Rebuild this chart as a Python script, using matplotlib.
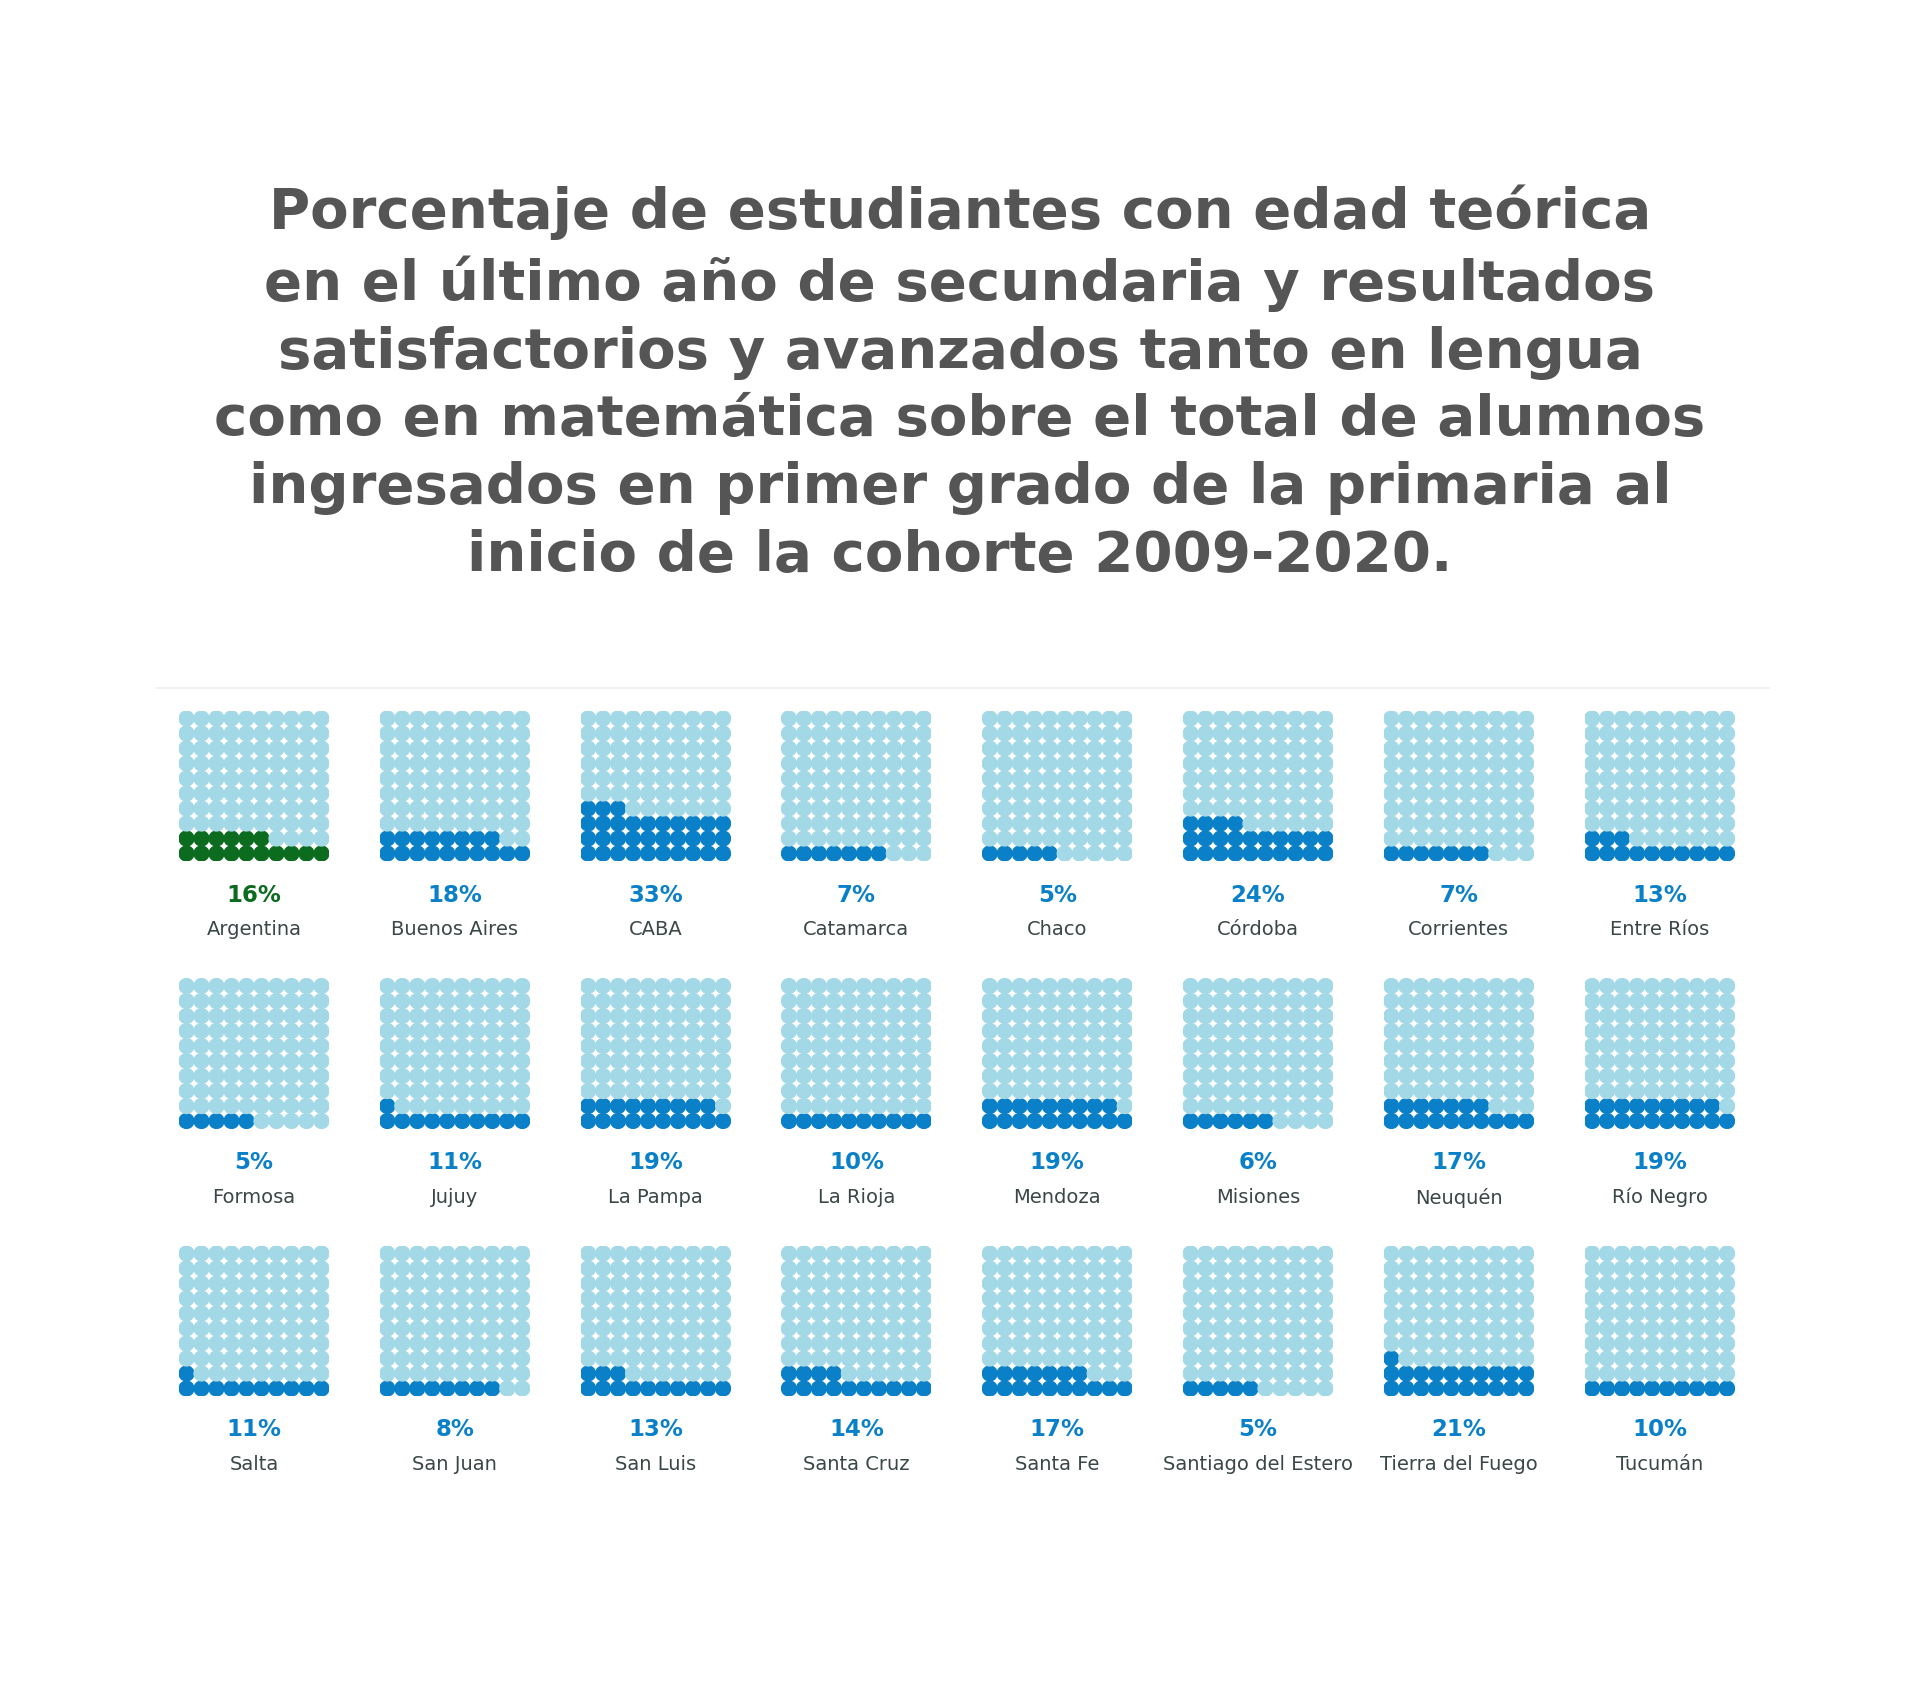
import matplotlib
matplotlib.use("Agg")
import matplotlib.pyplot as plt

title = ("Porcentaje de estudiantes con edad teórica\n"
         "en el último año de secundaria y resultados\n"
         "satisfactorios y avanzados tanto en lengua\n"
         "como en matemática sobre el total de alumnos\n"
         "ingresados en primer grado de la primaria al\n"
         "inicio de la cohorte 2009-2020.")

regions = ["Argentina", "Buenos Aires", "CABA", "Catamarca", "Chaco", "Córdoba", "Corrientes", "Entre Ríos",
           "Formosa", "Jujuy", "La Pampa", "La Rioja", "Mendoza", "Misiones", "Neuquén", "Río Negro",
           "Salta", "San Juan", "San Luis", "Santa Cruz", "Santa Fe", "Santiago del Estero",
           "Tierra del Fuego", "Tucumán"]
percents = [16, 18, 33, 7, 5, 24, 7, 13,
            5, 11, 19, 10, 19, 6, 17, 19,
            11, 8, 13, 14, 17, 5, 21, 10]

LIGHT = "#a3d8e7"
BLUE = "#0a80c8"
GREEN = "#0b6b1e"
NAME = "#3b4747"

W, H = 1920, 1695
fig = plt.figure(figsize=(W / 100, H / 100), dpi=100)
fig.patch.set_facecolor("white")

fig.text(0.5, 1 - 384 / H, title, ha="center", va="center", fontsize=40.5, fontweight="bold",
         color="#555555", linespacing=1.33, family="DejaVu Sans")

# separator line
fig.add_artist(plt.Line2D([157 / W, 1769 / W], [1 - 688 / H, 1 - 688 / H], color="#f0f0f0", lw=1.5))

x0, dx = 179, 200.8
y0, dy = 711, 267.5
size = 150

cols = [i % 10 for i in range(100)]
rows = [i // 10 for i in range(100)]

for k, (name, pct) in enumerate(zip(regions, percents)):
    c = k % 8
    r = k // 8
    left = x0 + c * dx
    top = y0 + r * dy
    ax = fig.add_axes([left / W, 1 - (top + size) / H, size / W, size / H])
    dark = GREEN if k == 0 else BLUE
    colors = [dark if i < pct else LIGHT for i in range(100)]
    ax.scatter(cols, rows, s=(16.3 * 0.72) ** 2, c=colors, linewidths=0)
    ax.set_xlim(-0.5, 9.5)
    ax.set_ylim(-0.5, 9.5)
    ax.axis("off")
    cx = (left + size / 2) / W
    fig.text(cx, 1 - (top + 184) / H, f"{pct}%", ha="center", va="center", fontsize=16.5,
             fontweight="bold", color=dark)
    fig.text(cx, 1 - (top + 219) / H, name, ha="center", va="center", fontsize=14, color=NAME)

fig.savefig("out.png", dpi=100, facecolor="white")
